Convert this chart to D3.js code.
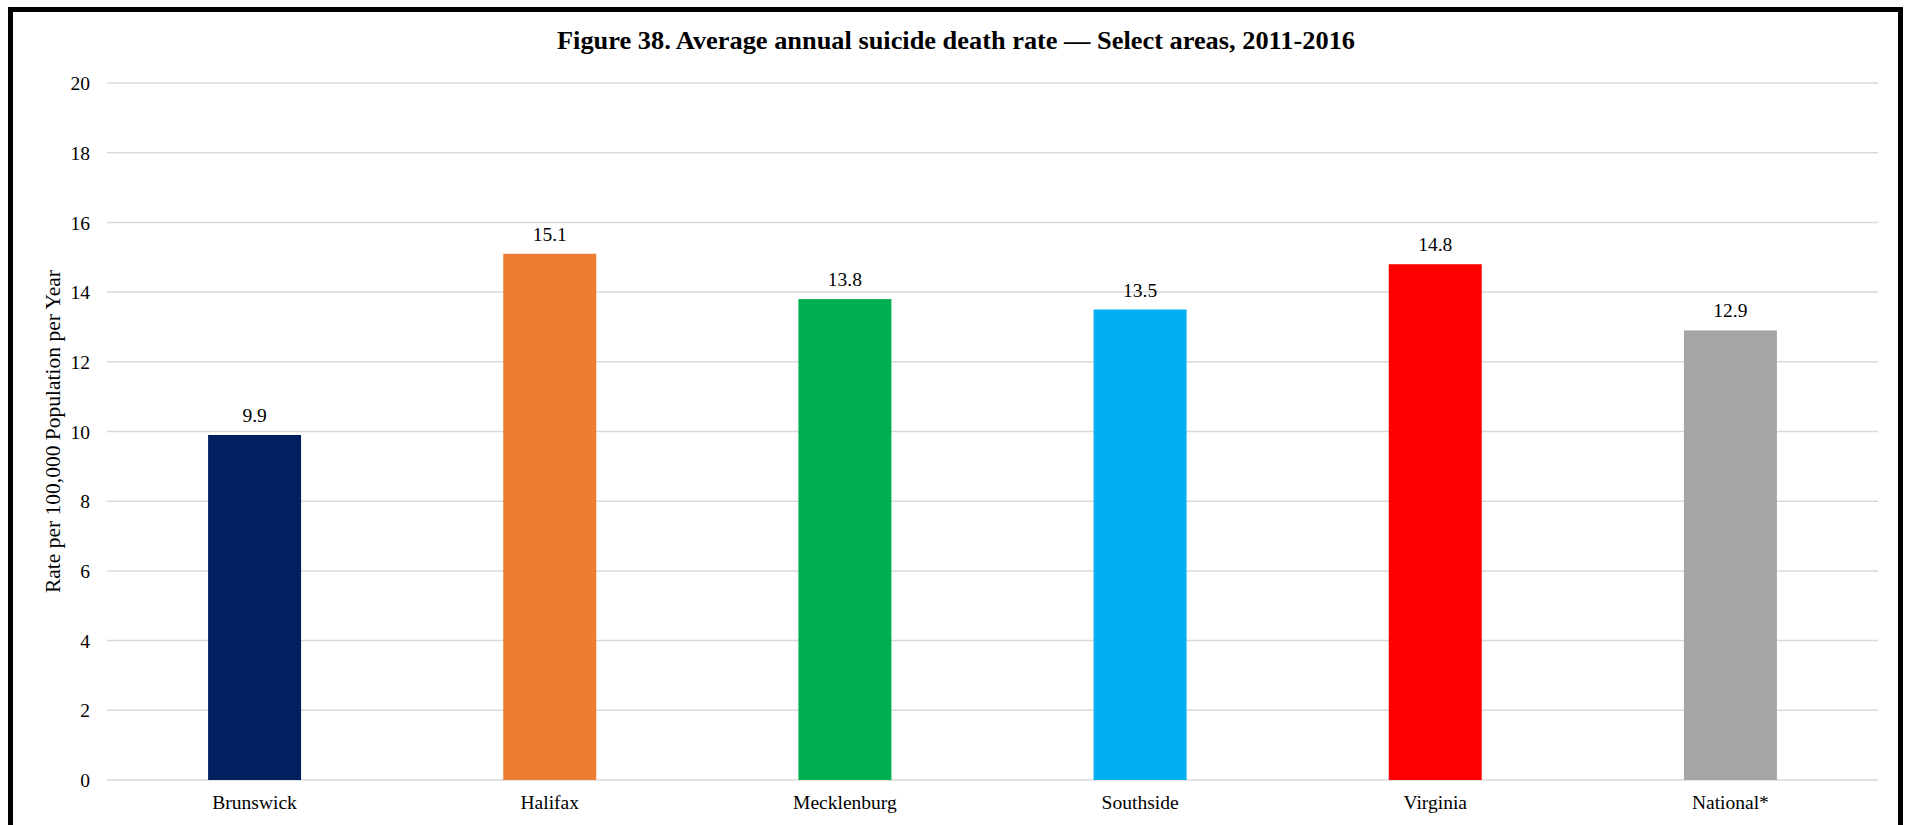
<!DOCTYPE html>
<html>
<head>
<meta charset="utf-8">
<script src="https://cdn.jsdelivr.net/npm/d3@7"></script>
<style>
  html, body { margin: 0; padding: 0; background: #fff; }
  svg { display: block; }
  text { font-family: "Liberation Serif", "Times New Roman", serif; fill: #000; }
</style>
</head>
<body>
<svg id="chart" width="1910" height="825"></svg>
<script>
const categories = ["Brunswick", "Halifax", "Mecklenburg", "Southside", "Virginia", "National*"];
const values = [9.9, 15.1, 13.8, 13.5, 14.8, 12.9];
const colors = ["#002060", "#ED7D31", "#00B050", "#00B0F0", "#FF0000", "#A5A5A5"];
const yTicks = [0, 2, 4, 6, 8, 10, 12, 14, 16, 18, 20];
const titleText = "Figure 38. Average annual suicide death rate \u2014 Select areas, 2011-2016";
const yAxisTitle = "Rate per 100,000 Population per Year";

const svg = d3.select("#chart");
const W = 1910, H = 825;
const plot = { left: 107, right: 1878, top: 83, bottom: 780 };

svg.append("rect").attr("x", 0).attr("y", 0).attr("width", W).attr("height", H).attr("fill", "#fff");

// outer border
svg.append("rect")
  .attr("x", 10.5).attr("y", 9.5)
  .attr("width", 1890).attr("height", 900)
  .attr("fill", "none").attr("stroke", "#000").attr("stroke-width", 5);

const x = d3.scaleBand().domain(categories).range([plot.left, plot.right]).padding(0);
const y = d3.scaleLinear().domain([0, 20]).range([plot.bottom, plot.top]);

// gridlines
svg.append("g").selectAll("line").data(yTicks).join("line")
  .attr("x1", plot.left).attr("x2", plot.right)
  .attr("y1", d => y(d)).attr("y2", d => y(d))
  .attr("stroke", "#D9D9D9").attr("stroke-width", 1.5);

// y axis via d3 axis
const yAxis = d3.axisLeft(y).tickValues(yTicks).tickSize(0).tickPadding(0);
const gy = svg.append("g").attr("transform", `translate(90,0)`).call(yAxis);
gy.select(".domain").remove();
gy.selectAll("text")
  .style("font-family", '"Liberation Serif", "Times New Roman", serif')
  .style("font-size", "19.5px").attr("fill", "#000").attr("dy", "0.34em");

// x axis labels
const xAxis = d3.axisBottom(x).tickSize(0).tickPadding(0);
const gx = svg.append("g").attr("transform", `translate(0,${plot.bottom})`).call(xAxis);
gx.select(".domain").remove();
gx.selectAll("text")
  .style("font-family", '"Liberation Serif", "Times New Roman", serif')
  .style("font-size", "19.5px").attr("fill", "#000")
  .attr("y", 29).attr("dy", 0);

// bars
const barFrac = 0.315;
const bw = x.bandwidth() * barFrac;
svg.append("g").selectAll("rect").data(categories).join("rect")
  .attr("x", (d) => x(d) + (x.bandwidth() - bw) / 2)
  .attr("y", (d, i) => y(values[i]))
  .attr("width", bw)
  .attr("height", (d, i) => y(0) - y(values[i]))
  .attr("fill", (d, i) => colors[i]);

// data labels
svg.append("g").selectAll("text").data(categories).join("text")
  .attr("x", d => x(d) + x.bandwidth() / 2)
  .attr("y", (d, i) => y(values[i]) - 13)
  .attr("text-anchor", "middle")
  .style("font-size", "19.5px")
  .text((d, i) => values[i].toFixed(1));

// title
svg.append("text")
  .attr("x", 956).attr("y", 49)
  .attr("text-anchor", "middle")
  .style("font-size", "26px").style("font-weight", "bold")
  .attr("textLength", 798).attr("lengthAdjust", "spacingAndGlyphs")
  .text(titleText);

// y axis title
svg.append("text")
  .attr("transform", `translate(60,${(plot.top + plot.bottom) / 2}) rotate(-90)`)
  .attr("text-anchor", "middle")
  .style("font-size", "21.5px")
  .text(yAxisTitle);
</script>
</body>
</html>
